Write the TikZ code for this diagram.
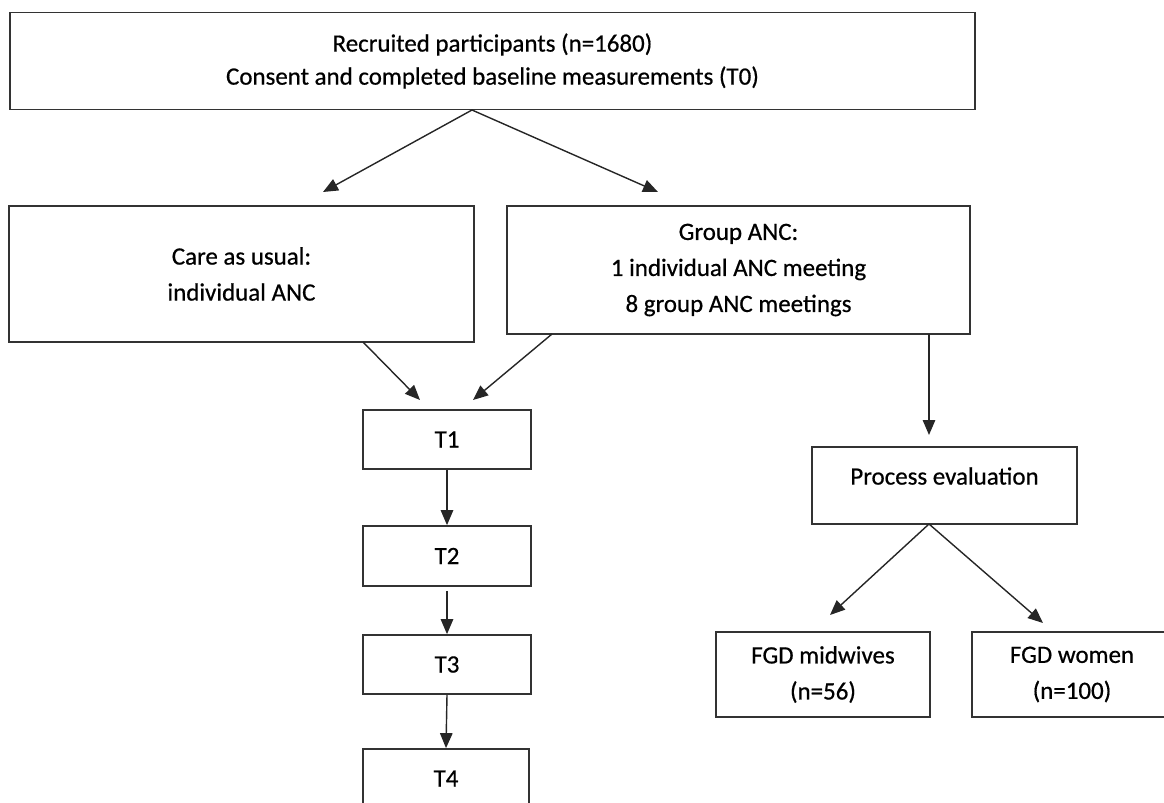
\documentclass[tikz,border=0pt]{standalone}
\usepackage{fontspec}
\setmainfont{Carlito}[FakeBold=0.6]
\usetikzlibrary{arrows.meta}
\begin{document}
\begin{tikzpicture}[x=0.02cm,y=-0.02cm,
  box/.style={draw=black!80, line width=1pt, rectangle, inner sep=0pt, align=center,
              font=\fontsize{14.2}{20.5}\selectfont, text=black},
  arr/.style={draw=black!85, line width=0.8pt, -{Triangle[length=0.3cm,width=0.25cm]}},
  lbl/.style={font=\fontsize{14.2}{20.5}\selectfont, inner sep=0pt, text=black}
]
\useasboundingbox (0,0) rectangle (1164,802);
\clip (0,0) rectangle (1164,802);

% boxes
\node[box, minimum width=19.3cm, minimum height=1.94cm, font=\fontsize{14.2}{18.8}\selectfont]
  (top) at (492.5,61) {Recruited participants (n=1680)\\Consent and completed baseline measurements (T0)};
\node[box, minimum width=9.3cm, minimum height=2.72cm] (care) at (241.5,274) {Care as usual:\\individual ANC};
\node[box, minimum width=9.26cm, minimum height=2.56cm] (group) at (738.5,270)
  {Group ANC:\\1 individual ANC meeting\\8 group ANC meetings};
\node[box, minimum width=3.36cm, minimum height=1.18cm] (t1) at (447,439.5) {T1};
\node[box, minimum width=3.36cm, minimum height=1.2cm] (t2) at (447,556) {T2};
\node[box, minimum width=3.36cm, minimum height=1.18cm] (t3) at (447,664.5) {T3};
\node[box, minimum width=3.32cm, minimum height=1.18cm] (t4) at (446,778.5) {T4};
\node[box, minimum width=5.3cm, minimum height=1.54cm] (proc) at (944.5,485.5) {};
\node[lbl] (proctext) at (944.5,476) {Process evaluation};
\node[box, minimum width=4.28cm, minimum height=1.7cm] (mid) at (823,674.5) {FGD midwives\\(n=56)};
\node[box, minimum width=4.0cm, minimum height=1.7cm] (women) at (1072,674.5) {FGD women\\(n=100)};

% connector end points
\coordinate (topout) at (472,110);
\coordinate (careIn) at (323,192);
\coordinate (groupIn) at (658,192);
\coordinate (careOut) at (363,342);
\coordinate (groupOut) at (552,334);
\coordinate (t1InL) at (420,400);
\coordinate (t1InR) at (473,400);
\coordinate (groupDown) at (929,334);
\coordinate (procIn) at (929,435);
\coordinate (procOut) at (929,524);
\coordinate (midIn) at (830,615);
\coordinate (womenIn) at (1043,623);

% connectors
\draw[arr] (topout) -- (careIn);
\draw[arr] (topout) -- (groupIn);
\draw[arr] (careOut) -- (t1InL);
\draw[arr] (groupOut) -- (t1InR);
\draw[arr] (t1.south) -- (t2.north);
\draw[arr, shorten <=0.08cm] (t2.south) -- (t3.north);
\draw[arr] (t3.south) -- (t4.north);
\draw[arr] (groupDown) -- (procIn);
\draw[arr] (procOut) -- (midIn);
\draw[arr] (procOut) -- (womenIn);
\end{tikzpicture}
\end{document}
